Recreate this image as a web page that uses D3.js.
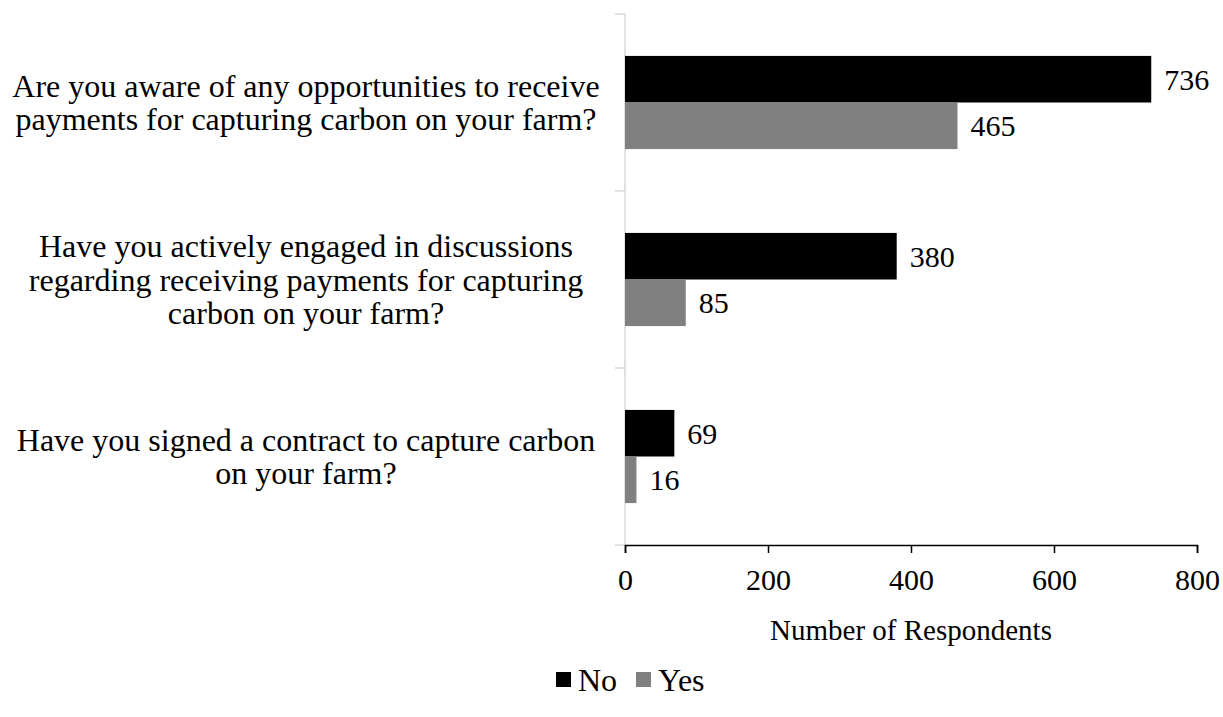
<!DOCTYPE html>
<html>
<head>
<meta charset="utf-8">
<script src="https://cdn.jsdelivr.net/npm/d3@7"></script>
<style>
  body { margin: 0; background: #fff; }
  text { font-family: "Liberation Serif", "Times New Roman", serif; fill: #000; }
</style>
</head>
<body>
<div id="chart"></div>
<script>
// Questions, top to bottom (line breaks as in the original figure)
const categories = [
	"Are you aware of any opportunities to receive\npayments for capturing carbon on your farm?",
	"Have you actively engaged in discussions\nregarding receiving payments for capturing\ncarbon on your farm?",
	"Have you signed a contract to capture carbon\non your farm?"
];
const seriesNames = ["No", "Yes"];
const noValues = [736, 380, 69];
const yesValues = [465, 85, 16];
const xTicks = [0, 200, 400, 600, 800];

const colors = { No: "#000000", Yes: "#808080" };

const width = 1223, height = 717;
const margin = { top: 14, right: 26, bottom: 172, left: 625 };

const svg = d3.select("#chart").append("svg")
	.attr("width", width)
	.attr("height", height);

const x = d3.scaleLinear()
	.domain([0, 800])
	.range([margin.left, width - margin.right]);

const y = d3.scaleBand()
	.domain(categories)
	.range([margin.top, height - margin.bottom]);

const ySub = d3.scaleBand()
	.domain(seriesNames)
	.range([0, y.bandwidth()])
	.paddingOuter(0.9);

const rows = categories.map((c, i) => ({ cat: c, No: noValues[i], Yes: yesValues[i] }));

// left (category) axis - light gray line with ticks at band edges
const yAxisG = svg.append("g");
yAxisG.append("line")
	.attr("x1", margin.left).attr("x2", margin.left)
	.attr("y1", margin.top).attr("y2", height - margin.bottom)
	.attr("stroke", "#d9d9d9").attr("stroke-width", 1.5);
const edges = categories.map(c => y(c)).concat([y.range()[1]]);
yAxisG.selectAll(".edge").data(edges).join("line")
	.attr("x1", margin.left - 10).attr("x2", margin.left)
	.attr("y1", d => d).attr("y2", d => d)
	.attr("stroke", "#d9d9d9").attr("stroke-width", 1.5);

// category labels
const labelX = 306;
yAxisG.selectAll(".cat").data(categories).join("text")
	.attr("text-anchor", "middle")
	.style("font-size", "32px")
	.each(function(d) {
		const lines = d.split("\n");
		const lh = 33.5;
		const cy = y(d) + y.bandwidth() / 2;
		const t = d3.select(this);
		lines.forEach((ln, i) => {
			t.append("tspan")
				.attr("x", labelX)
				.attr("y", cy + (i - (lines.length - 1) / 2) * lh)
				.attr("dy", "0.35em")
				.text(ln);
		});
	});

// bars
const groups = svg.selectAll(".grp").data(rows).join("g")
	.attr("transform", d => `translate(0,${y(d.cat)})`);

groups.selectAll("rect")
	.data(d => seriesNames.map(s => ({ s, v: d[s] })))
	.join("rect")
	.attr("x", x(0))
	.attr("y", d => ySub(d.s))
	.attr("width", d => x(d.v) - x(0))
	.attr("height", ySub.bandwidth())
	.attr("fill", d => colors[d.s]);

groups.selectAll(".val")
	.data(d => seriesNames.map(s => ({ s, v: d[s] })))
	.join("text")
	.attr("x", d => x(d.v) + 13)
	.attr("y", d => ySub(d.s) + ySub.bandwidth() / 2)
	.attr("dy", "0.35em")
	.style("font-size", "30px")
	.text(d => d.v);

// bottom axis
const xAxis = d3.axisBottom(x).tickValues(xTicks).tickSize(8).tickPadding(16).tickSizeOuter(8);
const xg = svg.append("g")
	.attr("transform", `translate(0,${height - margin.bottom})`)
	.call(xAxis);
xg.select(".domain").attr("stroke", "#000").attr("stroke-width", 1.5);
xg.selectAll(".tick line").attr("stroke", "#000").attr("stroke-width", 1.5);
xg.selectAll(".tick text")
	.style("font-family", "'Liberation Serif', 'Times New Roman', serif")
	.style("font-size", "30px")
	.attr("fill", "#000");

svg.append("text")
	.attr("x", (x(0) + x(800)) / 2)
	.attr("y", 630)
	.attr("dy", "0.35em")
	.attr("text-anchor", "middle")
	.style("font-size", "29px")
	.text("Number of Respondents");

// legend
const legend = svg.append("g").attr("transform", "translate(556,680)");
const legendX = [0, 80];
legend.selectAll("g").data(seriesNames).join("g")
	.attr("transform", (d, i) => `translate(${legendX[i]},0)`)
	.each(function(d) {
		const g = d3.select(this);
		g.append("rect").attr("x", 0).attr("y", -8).attr("width", 15).attr("height", 15).attr("fill", colors[d]);
		g.append("text").attr("x", 22).attr("y", 0).attr("dy", "0.35em")
			.style("font-size", "32px").text(d);
	});
</script>
</body>
</html>
